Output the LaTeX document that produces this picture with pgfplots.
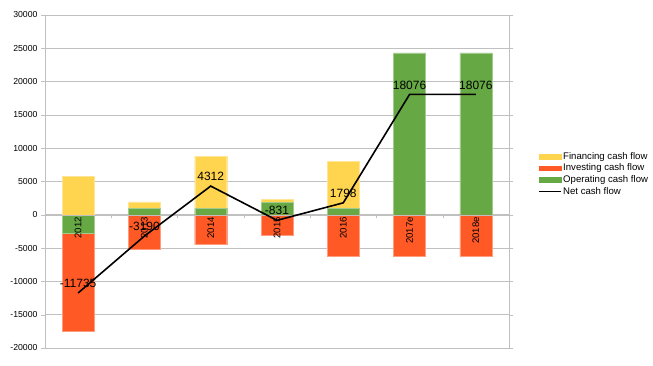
\documentclass[border=0pt]{standalone}
\usepackage{pgfplots}
\usepackage{pgfplotstable}
\pgfplotsset{compat=1.18}
\usepackage{fontspec}
\setmainfont{Liberation Sans}
\definecolor{finc}{HTML}{FFD550}
\definecolor{invc}{HTML}{FF5A26}
\definecolor{opc}{HTML}{66A844}
\definecolor{gridc}{HTML}{C0C0C0}
% x: 0..6 = 2012..2018e
\pgfplotstableread{
x op_pos fin
0 0 5750
1 950 1000
2 950 7850
3 1850 450
4 1000 7050
5 24300 0
6 24300 0
}\postab
\pgfplotstableread{
x op_neg inv
0 -2800 -14685
1 0 -5140
2 0 -4488
3 0 -3131
4 0 -6252
5 0 -6224
6 0 -6224
}\negtab
\pgfplotstableread{
x net
0 -11735
1 -3190
2 4312
3 -831
4 1798
5 18076
6 18076
}\nettab
\pgfplotsset{
  common/.style={
    scale only axis, width=464pt, height=333pt,
    at={(0,0)}, anchor=south west,
    xmin=-0.5, xmax=6.5, ymin=-20000, ymax=30000,
    /pgf/number format/assume math mode=true,
  },
}
\begin{document}
\begin{tikzpicture}
\useasboundingbox (-45pt,-18pt) rectangle (608pt,348pt);
% axis 1: frame, grid, y labels, positive stack
\begin{axis}[common,
  axis line style={gridc},
  ytick={-20000,-15000,...,30000},
  ymajorgrids, grid style={gridc, line width=0.6pt},
  xtick=\empty,
  y tick style={gridc}, tick align=outside, major tick length=4pt,
  yticklabel style={font=\fontsize{8.7}{10}\selectfont},
  y tick label style={/pgf/number format/1000 sep={}},
  scaled y ticks=false,
  ybar stacked, bar width=32pt,
]
\addplot[fill=opc, draw=opc!60!white] table[x=x,y=op_pos]{\postab};
\addplot[fill=finc, draw=finc!60!white] table[x=x,y=fin]{\postab};
\end{axis}
% axis 2: negative stack
\begin{axis}[common, hide axis, ybar stacked, bar width=32pt]
\addplot[fill=opc, draw=opc!60!white] table[x=x,y=op_neg]{\negtab};
\addplot[fill=invc, draw=invc!60!white] table[x=x,y=inv]{\negtab};
\end{axis}
% axis 3: zero axis with labels, net line, legend
\begin{axis}[common,
  axis x line=middle, axis y line=none,
  axis line style={gridc, -},
  xtick={0,...,6},
  xticklabels={2012,2013,2014,2015,2016,2017e,2018e},
  major tick length=0pt,
  minor xtick={0.5,1.5,2.5,3.5,4.5,5.5},
  minor tick length=3pt,
  tick align=outside,
  minor x tick style={gridc},
  xticklabel style={rotate=90, anchor=east, font=\fontsize{9.6}{10}\selectfont, inner sep=2pt},
  ytick=\empty,
  legend style={draw=none, fill=none, at={(rel axis cs:1.0625,0.5946)}, anchor=north west,
    font=\fontsize{9.6}{10}\selectfont, row sep=-0.8pt, inner sep=0pt,
    /tikz/every even column/.append style={column sep=2pt}},
  legend cell align=left,
]
\addlegendimage{legend image code/.code={\fill[finc] (0pt,-2.3pt) rectangle (22pt,2.3pt);}}
\addlegendentry{Financing cash flow}
\addlegendimage{legend image code/.code={\fill[invc] (0pt,-2.3pt) rectangle (22pt,2.3pt);}}
\addlegendentry{Investing cash flow}
\addlegendimage{legend image code/.code={\fill[opc] (0pt,-2.3pt) rectangle (22pt,2.3pt);}}
\addlegendentry{Operating cash flow}
\addplot[black, line width=1.6pt, mark=none,
  legend image code/.code={\draw[black, line width=1pt] (0pt,0pt) -- (22pt,0pt);},
  nodes near coords,
  nodes near coords style={font=\fontsize{12}{13}\selectfont, anchor=center, yshift=9.5pt, inner sep=0pt,
    /pgf/number format/1000 sep={}, /pgf/number format/assume math mode=true},
] table[x=x,y=net]{\nettab};
\addlegendentry{Net cash flow}
\end{axis}
\end{tikzpicture}
\end{document}
